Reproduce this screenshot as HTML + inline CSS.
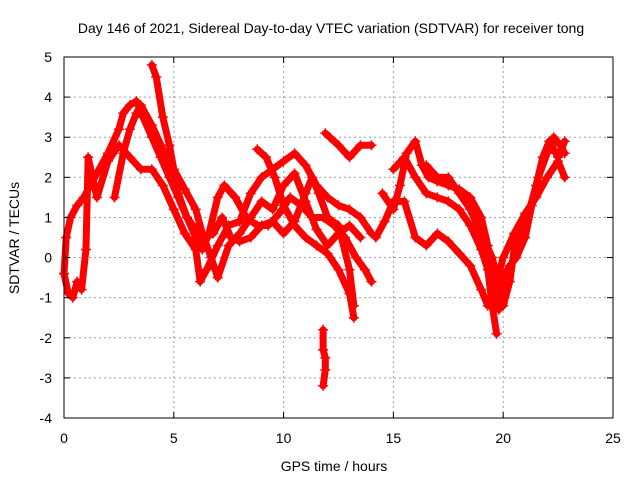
<!DOCTYPE html>
<html><head><meta charset="utf-8"><style>
body{margin:0;background:#fff;}
svg{display:block;font-family:"Liberation Sans",sans-serif;}
</style></head><body>
<svg id="chart" width="640" height="480">
<text x="331" y="33" text-anchor="middle" font-size="14" fill="#000">Day 146 of 2021, Sidereal Day-to-day VTEC variation (SDTVAR) for receiver tong</text>
<text x="334" y="471" text-anchor="middle" font-size="14">GPS time / hours</text>
<text transform="translate(19,238) rotate(-90)" text-anchor="middle" font-size="14">SDTVAR / TECUs</text>
<g id="grid"></g><g id="marks"></g><g id="axes"></g>
</svg>
<script>
const xTicks=[0,5,10,15,20,25];
const yTicks=[-4,-3,-2,-1,0,1,2,3,4,5];
const track1=[[0,-0.4],[0.1,0.5],[0.3,1.0],[0.6,1.3],[0.9,1.5],[1.2,1.8],[1.5,2.1],[2,2.6],[2.5,3.2],[2.7,3.6],[3,3.8],[3.3,3.9],[3.6,3.5],[4,3.0],[4.4,2.5],[4.8,2.0],[5.2,1.5],[5.6,1.0],[6,0.5],[6.3,0.2],[6.6,0.6],[7,1.5],[7.3,1.8],[7.8,1.5],[8.3,1.0],[8.8,0.8],[9.3,0.8],[9.8,1.1],[10.3,1.5],[10.8,1.3],[11.3,1.0],[11.8,1.0],[12.3,0.8],[12.8,0.5],[13.3,0.0],[13.7,-0.3],[14,-0.6]];
const track2=[[0,-0.4],[0.2,-0.9],[0.4,-1.0],[0.6,-0.6],[0.8,-0.8],[1.0,0.2],[1.1,2.5],[1.5,1.5],[2,2.4],[2.5,2.8],[3,2.5],[3.5,2.2],[4,2.2],[4.5,1.8],[5,1.2],[5.5,0.6],[6,0.2],[6.2,-0.6],[6.5,-0.3],[7,0.3],[7.5,0.8],[8,0.9],[8.5,1.6],[9,2.0],[9.5,2.2],[10,2.4],[10.5,2.6],[11,2.3],[11.5,1.8],[12,1.5],[12.5,1.3],[13,1.2],[13.5,1.0],[14,0.6]];
const track3=[[2.3,1.5],[2.7,2.6],[3,3.2],[3.3,3.6],[3.5,3.8],[4,3.3],[4.5,2.7],[5,2.2],[5.5,1.7],[6,1.2],[6.3,0.6],[6.7,0.0],[7,-0.5],[7.5,0.3],[8,0.6],[8.5,1.0],[9,1.4],[9.5,1.2],[10,1.8],[10.5,2.1],[11,1.4],[11.5,0.7],[12,0.3],[12.5,0.6],[13,0.8],[13.5,0.5]];
const track4=[[4.0,4.8],[4.2,4.5],[4.5,3.5],[4.8,2.8],[5,2.2],[5.2,1.6],[5.6,1.0],[6,0.7],[6.4,0.5],[6.8,0.6],[7.2,1.0],[7.6,0.5],[8,0.4],[8.5,0.5],[9,0.8],[9.5,0.9],[10,0.6],[10.5,0.9],[11,1.6],[11.3,2.0],[11.6,1.6],[12,1.0],[12.5,0.8],[13,-0.3],[13.2,-1.2]];
const track5=[[8.8,2.7],[9.2,2.5],[9.6,2.0],[10,1.3],[10.5,0.8],[11,0.5],[11.5,0.3],[12,0.1],[12.5,-0.3],[13,-0.9],[13.2,-1.5]];
const track6=[[11.9,3.1],[12.1,3.0],[12.5,2.8],[13,2.5],[13.5,2.8],[14,2.8]];
const track7=[[11.8,-1.8],[11.8,-2.3],[11.9,-2.5],[11.9,-2.8],[11.8,-3.2]];
const track8=[[14.5,1.6],[15,1.2],[15.3,1.8],[15.6,2.6],[16,2.9],[16.3,2.3],[16.6,2.0],[17,1.9],[17.5,1.8],[18,1.7],[18.5,1.5],[19,1.0],[19.3,0.3],[19.6,-1.0],[19.8,-1.3],[20,-0.5],[20.3,-0.2],[20.6,0.0],[21,0.5],[21.3,1.3],[21.6,2.0],[22,2.6],[22.3,3.0],[22.6,2.8],[22.8,2.6]];
const track9=[[15,2.2],[15.5,2.5],[16,2.0],[16.5,1.6],[17,1.5],[17.5,1.4],[18,1.2],[18.5,0.8],[19,0.2],[19.3,-0.3],[19.5,-1.2],[19.7,-1.9]];
const track10=[[14.2,0.5],[14.6,0.9],[15,1.4],[15.5,1.4],[16,0.5],[16.5,0.3],[17,0.6],[17.5,0.4],[18,0.1],[18.5,-0.2],[19,-0.8],[19.3,-1.2],[19.6,-0.8],[20,0.0],[20.5,0.6],[21,1.1],[21.5,1.5],[22,2.0],[22.5,2.4],[22.8,2.0]];
const track11=[[16.5,2.3],[17,2.0],[17.5,2.0],[18,1.6],[18.5,1.2],[19,0.6],[19.5,0.0],[20,-1.2],[20.3,-0.6],[20.5,0.2],[21,0.8],[21.5,1.8],[21.8,2.5],[22.1,2.9],[22.5,2.5],[22.8,2.9]];
const tracks=[track1,track2,track3,track4,track5,track6,track7,track8,track9,track10,track11];

const X0=64,X1=613,Y0=418,Y1=57;
const xs=v=>X0+(v-0)/(25-0)*(X1-X0);
const ys=v=>Y0-(v+4)/(9)*(Y0-Y1);
const NS='http://www.w3.org/2000/svg';
function mk(t,a,p){const e=document.createElementNS(NS,t);for(const k in a)e.setAttribute(k,a[k]);p.appendChild(e);return e;}
const grid=document.getElementById('grid'),axes=document.getElementById('axes'),marks=document.getElementById('marks');
xTicks.forEach(t=>{
  const x=xs(t);
  if(t>0&&t<25){const g=mk('line',{x1:x,x2:x,y1:Y0,y2:Y1,stroke:'#a0a0a0','stroke-dasharray':'2,3'},grid);
  
  }
  const l=mk('text',{x:x,y:Y0+25,'text-anchor':'middle','font-size':14},axes);l.textContent=t;
  
  
  mk('line',{x1:x,x2:x,y1:Y0,y2:Y0-6,stroke:'#000'},axes);
  mk('line',{x1:x,x2:x,y1:Y1,y2:Y1+6,stroke:'#000'},axes);
});
yTicks.forEach(t=>{
  const y=ys(t);
  if(t>-4&&t<5){const g=mk('line',{x1:X0,x2:X1,y1:y,y2:y,stroke:'#a0a0a0','stroke-dasharray':'2,3'},grid);
  
  }
  const l=mk('text',{x:X0-12,y:y+5,'text-anchor':'end','font-size':14},axes);l.textContent=t;
  
  
  mk('line',{x1:X0,x2:X0+6,y1:y,y2:y,stroke:'#000'},axes);
  mk('line',{x1:X1,x2:X1-6,y1:y,y2:y,stroke:'#000'},axes);
});
const fr=mk('rect',{x:X0,y:Y1,width:X1-X0,height:Y0-Y1,fill:'none',stroke:'#000'},axes);


tracks.forEach((tr,i)=>{
  const pl=mk('polyline',{points:tr.map(p=>xs(p[0])+','+ys(p[1])).join(' '),fill:'none',stroke:'#ff0000','stroke-width':7,'stroke-linejoin':'round','stroke-linecap':'round'},marks);
  
  
  tr.forEach(p=>{
    const x=xs(p[0]),y=ys(p[1]);
    const m=mk('path',{d:`M${x-5},${y}H${x+5}M${x},${y-5}V${y+5}`,stroke:'#ff0000','stroke-width':1.5},marks);
    
    
  });
});
</script>
</body></html>
